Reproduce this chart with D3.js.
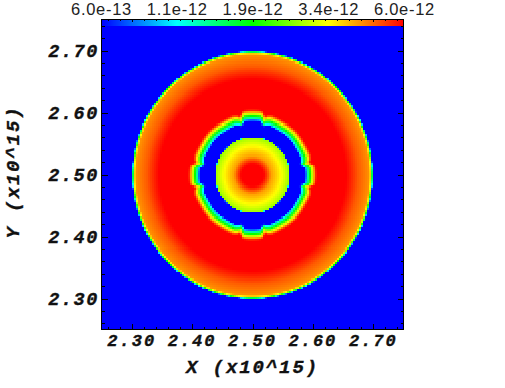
<!DOCTYPE html>
<html>
<head>
<meta charset="utf-8">
<script src="https://cdn.jsdelivr.net/npm/d3@7"></script>
<style>
    html, body { margin: 0; padding: 0; background: #fff; }
    svg { display: block; }
    .axis-label { font-family: "Liberation Mono", monospace; font-weight: bold; font-style: italic; fill: #111; stroke: #111; stroke-width: 0.35px; }
    .bar-label { font-family: "Liberation Sans", sans-serif; font-size: 16.5px; letter-spacing: 0.7px; fill: #222; }
</style>
</head>
<body>
<script>
// values
var barLabels = ["6.0e-13", "1.1e-12", "1.9e-12", "3.4e-12", "6.0e-12"];
var barColors = ["#0000ff", "#00ffff", "#00ff00", "#ffff00", "#ff0000"];
var valueRange = [6.0e-13, 6.0e-12];

var majorTicks = [2.30, 2.40, 2.50, 2.60, 2.70];
var minorTicks = [2.26, 2.28, 2.32, 2.34, 2.36, 2.38, 2.42, 2.44, 2.46, 2.48,
    2.52, 2.54, 2.56, 2.58, 2.62, 2.64, 2.66, 2.68, 2.72, 2.74];
var extent = [2.25, 2.75];
var centre = 2.50;

// radial profile: distance from the centre and the value there
var profileRadius = [0, 0.018, 0.030, 0.050, 0.058, 0.0605, 0.0615,
    0.083, 0.086, 0.091, 0.096, 0.102,
    0.155, 0.175, 0.194, 0.196, 0.198, 0.200];
var profileValue = [8e-12, 6e-12, 4.2e-12, 3.2e-12, 2.8e-12, 2.7e-12, 3e-13,
    5e-13, 1.07e-12, 1.9e-12, 3.4e-12, 6e-12,
    6e-12, 4.9e-12, 4.3e-12, 3.4e-12, 1.9e-12, 3e-13];

// how far the middle ring moves out, by angle from the nearest axis (degrees)
var ringAngle = [0, 8, 10, 12, 14, 18, 30, 45];
var ringShift = [0.004, 0.004, 0, -0.005, -0.002, 0, -0.001, 0];

var nCells = 150;

var plotLeft = 101.5, plotRight = 403.5, plotTop = 19.5, plotBottom = 329.5;

var svg = d3.select("body").append("svg")
    .attr("width", 505)
    .attr("height", 388);

var xScale = d3.scaleLinear().domain(extent).range([plotLeft, plotRight]);
var yScale = d3.scaleLinear().domain(extent).range([plotBottom, plotTop]);

// position on the colour bar for a value (log scale)
var logScale = d3.scaleLog().domain(valueRange).range([0, 1]).clamp(true);
var colorRamp = d3.scaleLinear()
    .domain([0, 0.25, 0.5, 0.75, 1])
    .range(barColors)
    .clamp(true);

var profile = d3.scaleLinear().domain(profileRadius).range(profileValue).clamp(true);
var shift = d3.scaleLinear().domain(ringAngle).range(ringShift).clamp(true);

function valueAt(px, py) {
    var dx = px - centre, dy = py - centre;
    var r = Math.sqrt(dx * dx + dy * dy);
    var a = Math.atan2(Math.abs(dy), Math.abs(dx)) * 180 / Math.PI;
    if (a > 45) a = 90 - a;
    if (r > 0.07 && r < 0.125) r = r - shift(a);
    return profile(r);
}

// the field, one rect per cell
var xBand = d3.scaleBand().domain(d3.range(nCells)).range([plotLeft, plotRight]);
var yBand = d3.scaleBand().domain(d3.range(nCells)).range([plotBottom, plotTop]);

var cells = [];
d3.range(nCells).forEach(function (j) {
    d3.range(nCells).forEach(function (i) {
        cells.push({ i: i, j: j });
    });
});

svg.append("g")
    .attr("shape-rendering", "crispEdges")
    .selectAll("rect")
    .data(cells)
    .enter().append("rect")
    .attr("x", function (d) { return xBand(d.i); })
    .attr("y", function (d) { return yBand(d.j); })
    .attr("width", xBand.bandwidth() + 0.6)
    .attr("height", yBand.bandwidth() + 0.6)
    .attr("fill", function (d) {
        var px = xScale.invert(xBand(d.i) + xBand.bandwidth() / 2);
        var py = yScale.invert(yBand(d.j) + yBand.bandwidth() / 2);
        return colorRamp(logScale(valueAt(px, py)));
    });

// ticks point inwards on all four sides
function drawTicks(axis, translate, values, size) {
    var g = svg.append("g")
        .attr("transform", translate)
        .attr("shape-rendering", "crispEdges")
        .call(axis.tickValues(values).tickSize(size).tickFormat(""));
    g.select(".domain").remove();
    g.selectAll("line").attr("stroke", "#000");
}

[[majorTicks, 6], [minorTicks, 3]].forEach(function (t) {
    drawTicks(d3.axisTop(xScale), "translate(0," + plotBottom + ")", t[0], t[1]);
    drawTicks(d3.axisRight(yScale), "translate(" + plotLeft + ",0)", t[0], t[1]);
    drawTicks(d3.axisLeft(yScale), "translate(" + plotRight + ",0)", t[0], t[1]);
});

// colour bar sits over the top of the plot
var barTop = 19.5, barBottom = 26;
var barStops = d3.range(303);
var barX = d3.scaleBand().domain(barStops).range([plotLeft, plotRight]);

svg.append("g")
    .attr("shape-rendering", "crispEdges")
    .selectAll("rect")
    .data(barStops)
    .enter().append("rect")
    .attr("x", function (d) { return barX(d); })
    .attr("y", barTop)
    .attr("width", barX.bandwidth() + 0.5)
    .attr("height", barBottom - barTop)
    .attr("fill", function (d) { return colorRamp(d / (barStops.length - 1)); });

// only the stubs of the top ticks show on the bar
drawTicks(d3.axisBottom(xScale), "translate(0," + plotTop + ")", majorTicks, 2);
drawTicks(d3.axisBottom(xScale), "translate(0," + plotTop + ")", minorTicks, 1);

var labelX = d3.scalePoint().domain(barLabels).range([plotLeft, plotRight + 1]);

svg.selectAll(".bar-label")
    .data(barLabels)
    .enter().append("text")
    .attr("class", "bar-label")
    .attr("x", function (d) { return labelX(d); })
    .attr("y", 15)
    .attr("text-anchor", "middle")
    .text(function (d) { return d; });

svg.append("rect")
    .attr("x", plotLeft)
    .attr("y", plotTop)
    .attr("width", plotRight - plotLeft)
    .attr("height", plotBottom - plotTop)
    .attr("fill", "none")
    .attr("stroke", "#000")
    .attr("shape-rendering", "crispEdges");

// tick labels
svg.selectAll(".x-tick")
    .data(majorTicks)
    .enter().append("text")
    .attr("class", "axis-label x-tick")
    .attr("x", function (d) { return xScale(d); })
    .attr("y", 346)
    .attr("text-anchor", "middle")
    .attr("font-size", 17)
    .attr("letter-spacing", 2)
    .text(function (d) { return d.toFixed(2); });

svg.selectAll(".y-tick")
    .data(majorTicks)
    .enter().append("text")
    .attr("class", "axis-label y-tick")
    .attr("x", 99)
    .attr("y", function (d) { return yScale(d) + 6; })
    .attr("text-anchor", "end")
    .attr("font-size", 18.5)
    .attr("letter-spacing", 1.6)
    .text(function (d) { return d.toFixed(2); });

// axis titles
svg.append("text")
    .attr("class", "axis-label")
    .attr("x", 252.5)
    .attr("y", 373)
    .attr("text-anchor", "middle")
    .attr("font-size", 19)
    .attr("letter-spacing", 1.9)
    .text("X (x10^15)");

svg.append("text")
    .attr("class", "axis-label")
    .attr("transform", "translate(19,172) rotate(-90)")
    .attr("text-anchor", "middle")
    .attr("font-size", 19)
    .attr("letter-spacing", 1.9)
    .text("Y (x10^15)");
</script>
</body>
</html>
